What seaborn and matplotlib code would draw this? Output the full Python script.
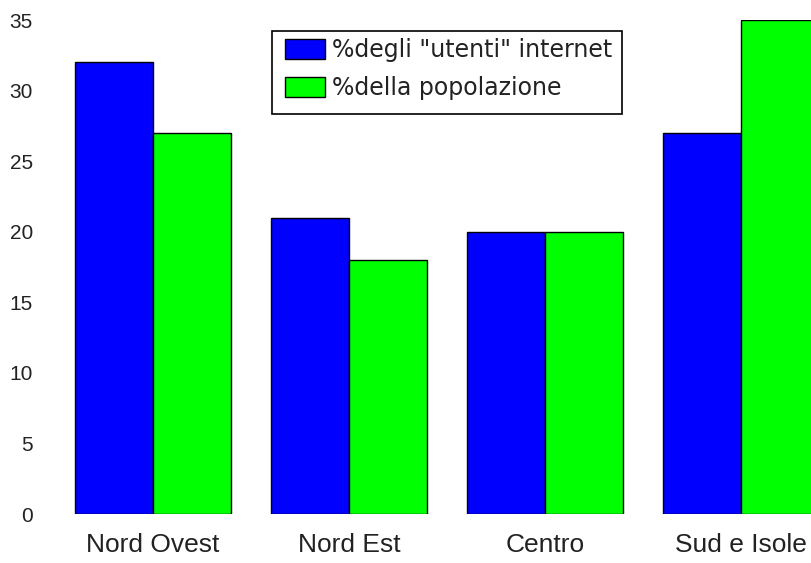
import matplotlib
matplotlib.use("Agg")
import matplotlib.pyplot as plt
from matplotlib.patches import Rectangle
import seaborn as sns
import pandas as pd

categories = ["Nord Ovest", "Nord Est", "Centro", "Sud e Isole"]
series_names = ['%degli "utenti" internet', "%della popolazione"]
utenti = [32, 21, 20, 27]
popolazione = [27, 18, 20, 35]
y_ticks = [0, 5, 10, 15, 20, 25, 30, 35]

df = pd.DataFrame({
    "regione": categories * 2,
    "serie": [series_names[0]] * 4 + [series_names[1]] * 4,
    "valore": utenti + popolazione,
})

sns.set_theme(style="white")
plt.rcParams["font.family"] = ["Liberation Sans", "DejaVu Sans"]

W, H = 811, 563
fig = plt.figure(figsize=(W / 100, H / 100), dpi=100)
ax = fig.add_axes([55 / W, 49 / H, 1 - 55 / W, 494 / H])
sns.barplot(data=df, x="regione", y="valore", hue="serie",
            palette=["#0000ff", "#00ff00"], edgecolor="black", linewidth=1,
            width=0.8, saturation=1, ax=ax)
ax.set_xlim(-0.5, 3.357)
ax.set_ylim(0, 35)
ax.set_yticks(y_ticks)
ax.set_yticklabels([str(t) for t in y_ticks])
ax.set_xlabel("")
ax.set_ylabel("")
for s in ax.spines.values():
    s.set_visible(False)
ax.tick_params(axis="y", length=0, pad=16, labelsize=15, colors="#222222")
ax.tick_params(axis="x", length=0, pad=14, labelsize=19, colors="#222222")
ax.grid(False)

leg = ax.legend(loc="upper left", bbox_to_anchor=(285 / W, 1 - 38 / H),
                bbox_transform=fig.transFigure, frameon=False,
                prop={"family": "DejaVu Sans", "size": 17},
                handlelength=1.7, handleheight=0.95,
                handletextpad=0.3, borderpad=0, labelspacing=0.6,
                borderaxespad=0)
for h in leg.legend_handles:
    h.set_edgecolor("black")
    h.set_linewidth(1)
for t in leg.get_texts():
    t.set_color("#222222")

fig.patches.append(Rectangle((272 / W, 1 - 114 / H), 350 / W, 83 / H,
                             transform=fig.transFigure, fill=False,
                             edgecolor="black", linewidth=1.2, zorder=5))

fig.savefig("out.png", dpi=100)
